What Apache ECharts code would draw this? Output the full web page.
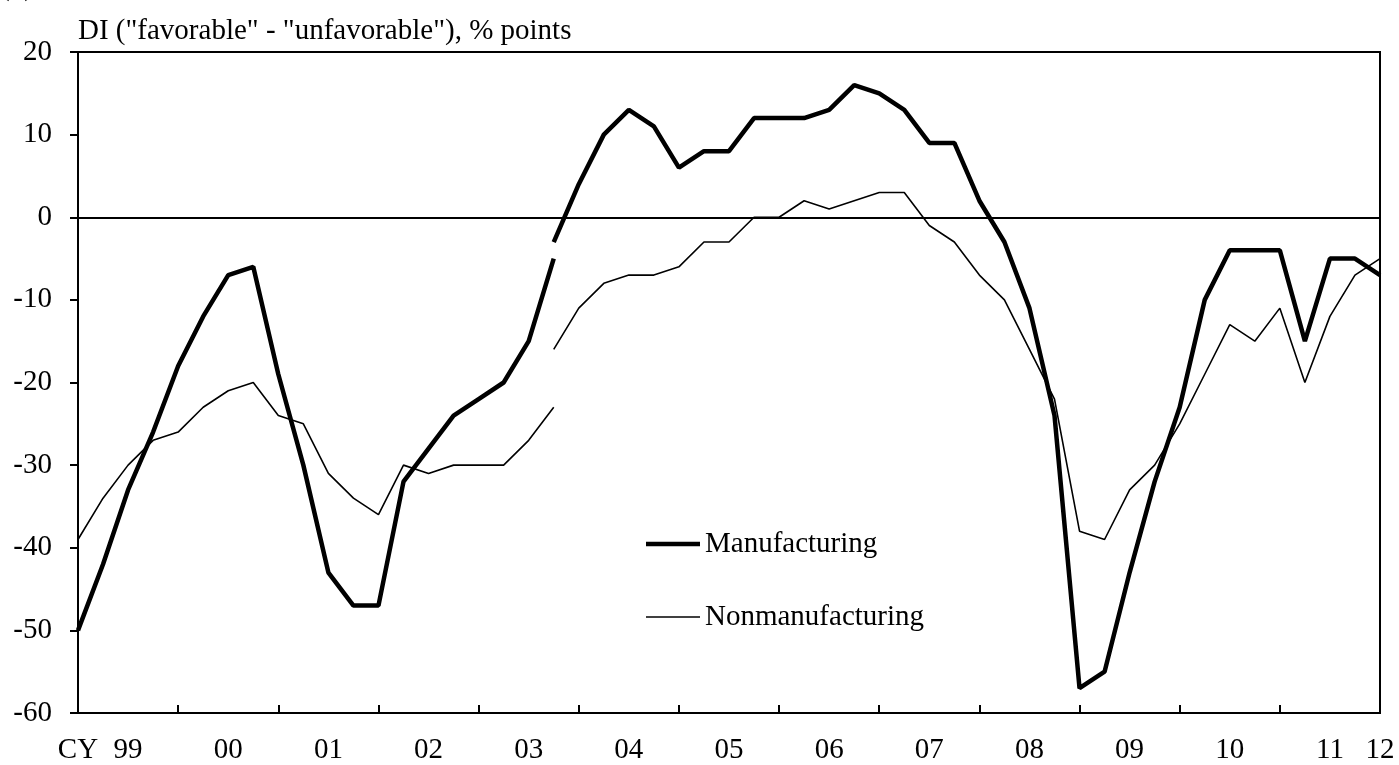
<!DOCTYPE html>
<html>
<head>
<meta charset="utf-8">
<script src="https://cdn.jsdelivr.net/npm/echarts@6/dist/echarts.min.js"></script>
<style>
  html, body { margin: 0; padding: 0; background: #fff; }
  #chart { width: 1399px; height: 765px; }
</style>
</head>
<body>
<div id="chart"></div>
<script>
// quarters, CY1999 Q1 .. CY2012 Q1
var quarters = [
    '99Q1', '99Q2', '99Q3', '99Q4', '00Q1', '00Q2', '00Q3', '00Q4',
    '01Q1', '01Q2', '01Q3', '01Q4', '02Q1', '02Q2', '02Q3', '02Q4',
    '03Q1', '03Q2', '03Q3', '03Q4', '04Q1', '04Q2', '04Q3', '04Q4',
    '05Q1', '05Q2', '05Q3', '05Q4', '06Q1', '06Q2', '06Q3', '06Q4',
    '07Q1', '07Q2', '07Q3', '07Q4', '08Q1', '08Q2', '08Q3', '08Q4',
    '09Q1', '09Q2', '09Q3', '09Q4', '10Q1', '10Q2', '10Q3', '10Q4',
    '11Q1', '11Q2', '11Q3', '11Q4', '12Q1'
];

// tick labels under the x axis and the quarter they sit on
var yearLabels = ['CY', '99', '00', '01', '02', '03', '04', '05', '06', '07', '08', '09', '10', '11', '12'];
var yearLabelAt = [0, 2, 6, 10, 14, 18, 22, 26, 30, 34, 38, 42, 46, 50, 52];

// old basis (up to 03Q4) and new basis (from 03Q4)
var mfgOld = [-50, -42, -33, -26, -18, -12, -7, -6, -19, -30,
              -43, -47, -47, -32, -28, -24, -22, -20, -15, -5];
var mfgNew = [-3, 4, 10, 13, 11, 6, 8, 8, 12, 12,
              12, 13, 16, 15, 13, 9, 9, 2, -3, -11,
              -24, -57, -55, -43, -32, -23, -10, -4, -4, -4,
              -15, -5, -5, -7];
var nonOld = [-39, -34, -30, -27, -26, -23, -21, -20, -24, -25,
              -31, -34, -36, -30, -31, -30, -30, -30, -27, -23];
var nonNew = [-16, -11, -8, -7, -7, -6, -3, -3, 0, 0,
              2, 1, 2, 3, 3, -1, -3, -7, -10, -16,
              -22, -38, -39, -33, -30, -25, -19, -13, -15, -11,
              -20, -12, -7, -5];

var breakIdx = 19;

function oldPart(arr) {
    var out = [];
    for (var i = 0; i < quarters.length; i++) out.push(i < arr.length ? arr[i] : null);
    return out;
}
function newPart(arr) {
    var out = [];
    for (var i = 0; i < quarters.length; i++) out.push(i >= breakIdx ? arr[i - breakIdx] : null);
    return out;
}

var font = '"Liberation Serif", "Times New Roman", serif';

var chart = echarts.init(document.getElementById('chart'));
chart.setOption({
    animation: false,
    backgroundColor: '#fff',
    title: {
        text: '(1)',
        left: 0,
        top: -27,
        padding: 0,
        textStyle: { fontFamily: font, fontSize: 29, fontWeight: 'normal', color: '#000' }
    },
    grid: {
        left: 78, right: 19, top: 52, bottom: 50,
        show: true, borderColor: '#000', borderWidth: 2
    },
    legend: [{
        data: ['Manufacturing'],
        icon: 'rect',
        left: 646, top: 529,
        padding: 0,
        itemWidth: 54, itemHeight: 4.5,
        textStyle: { fontFamily: font, fontSize: 29, color: '#000', lineHeight: 30 }
    }, {
        data: ['Nonmanufacturing'],
        icon: 'rect',
        left: 646, top: 602,
        padding: 0,
        itemWidth: 54, itemHeight: 1.6,
        textStyle: { fontFamily: font, fontSize: 29, color: '#000', lineHeight: 30 }
    }],
    xAxis: {
        type: 'category',
        data: quarters,
        boundaryGap: false,
        axisLine: { onZero: false, lineStyle: { color: '#000', width: 2 } },
        axisTick: {
            inside: true, length: 8,
            lineStyle: { color: '#000', width: 2 },
            interval: function (index) { return index % 4 === 0; }
        },
        axisLabel: {
            margin: 23,
            fontFamily: font, fontSize: 29, color: '#000',
            interval: function (index) { return yearLabelAt.indexOf(index) >= 0; },
            formatter: function (value, index) {
                var k = yearLabelAt.indexOf(index);
                return k >= 0 ? yearLabels[k] : '';
            }
        },
        splitLine: { show: false }
    },
    yAxis: {
        type: 'value',
        min: -60, max: 20, interval: 10,
        name: 'DI ("favorable" - "unfavorable"), % points',
        nameLocation: 'end',
        nameGap: 6,
        nameTextStyle: { fontFamily: font, fontSize: 29, color: '#000', align: 'left', verticalAlign: 'bottom' },
        axisLine: { show: true, lineStyle: { color: '#000', width: 2 } },
        axisTick: { show: true, length: 8, lineStyle: { color: '#000', width: 2 } },
        axisLabel: { margin: 26, fontFamily: font, fontSize: 29, color: '#000' },
        splitLine: { show: false }
    },
    series: [{
        name: 'Manufacturing',
        type: 'line',
        data: oldPart(mfgOld),
        symbol: 'none',
        lineStyle: { color: '#000', width: 4.5 },
        itemStyle: { color: '#000' },
        z: 3,
        markLine: {
            silent: true,
            symbol: 'none',
            label: { show: false },
            lineStyle: { color: '#000', width: 2, type: 'solid' },
            data: [{ yAxis: 0 }]
        }
    }, {
        name: 'Manufacturing',
        type: 'line',
        data: newPart(mfgNew),
        symbol: 'none',
        lineStyle: { color: '#000', width: 4.5 },
        itemStyle: { color: '#000' },
        z: 3
    }, {
        name: 'Nonmanufacturing',
        type: 'line',
        data: oldPart(nonOld),
        symbol: 'none',
        lineStyle: { color: '#000', width: 1.6 },
        itemStyle: { color: '#000' },
        z: 2
    }, {
        name: 'Nonmanufacturing',
        type: 'line',
        data: newPart(nonNew),
        symbol: 'none',
        lineStyle: { color: '#000', width: 1.6 },
        itemStyle: { color: '#000' },
        z: 2
    }]
});
</script>
</body>
</html>
